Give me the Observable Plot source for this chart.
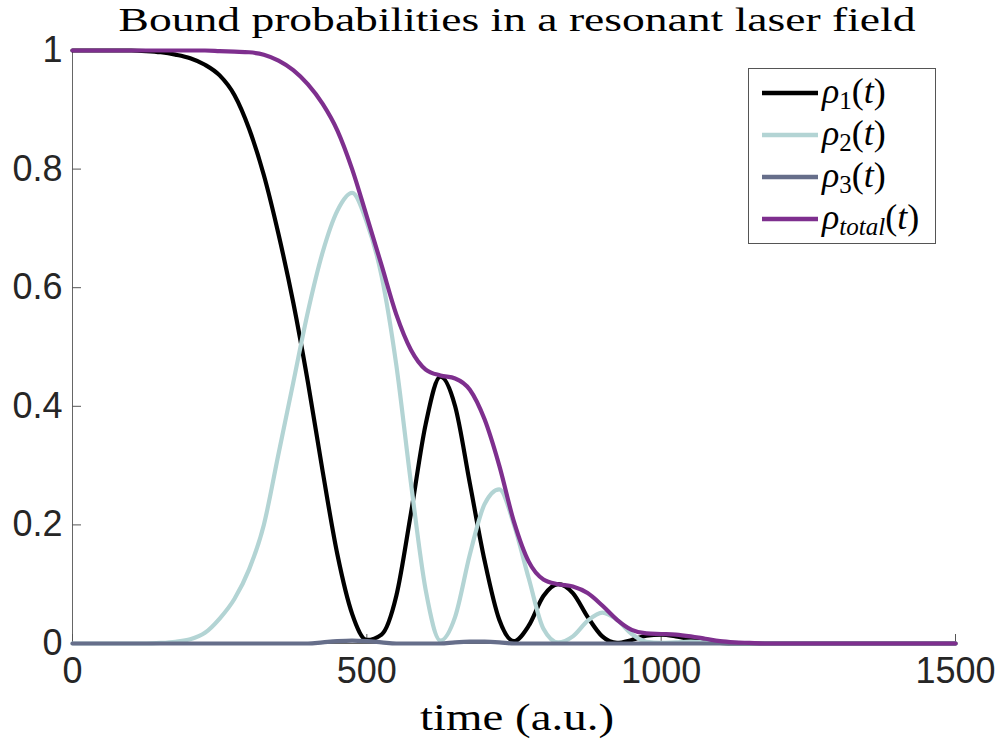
<!DOCTYPE html>
<html><head><meta charset="utf-8">
<script src="https://cdn.jsdelivr.net/npm/d3@7"></script>
<script src="https://cdn.jsdelivr.net/npm/@observablehq/plot@0.6"></script>
<style>body{margin:0;background:#fff}</style>
</head><body><div id="chart"></div>
<script>
// ---- data ----
const time = [0,25,50,75,100,125,150,175,200,225,250,275,300,325,350,375,400,425,450,475,500,525,550,575,600,625,650,675,700,725,750,775,800,825,850,875,900,925,950,975,1000,1025,1050,1075,1100,1125,1150,1175,1200,1225,1250,1275,1300,1325,1350,1375,1400,1425,1450,1475,1500];
const rho1 = [1,1,1,1,1,0.999,0.997,0.993,0.987,0.976,0.958,0.925,0.868,0.79,0.69,0.575,0.44,0.29,0.15,0.05,0.006,0.015,0.08,0.22,0.37,0.45,0.40,0.27,0.14,0.04,0.004,0.03,0.08,0.10,0.085,0.045,0.012,0.001,0.006,0.013,0.015,0.012,0.007,0.003,0.001,0,0,0,0,0,0,0,0,0,0,0,0,0,0,0,0];
const rho2 = [0,0,0,0,0,0,0.001,0.003,0.007,0.018,0.042,0.075,0.125,0.20,0.32,0.44,0.56,0.66,0.73,0.76,0.71,0.62,0.47,0.27,0.09,0.005,0.045,0.15,0.235,0.26,0.20,0.11,0.025,0.002,0.012,0.038,0.052,0.040,0.016,0.003,0.001,0.002,0.003,0.002,0.001,0,0,0,0,0,0,0,0,0,0,0,0,0,0,0,0];
const rho3 = [0,0,0,0,0,0,0,0,0,0,0,0,0,0,0,0,0,0.002,0.004,0.005,0.004,0.002,0,0,0,0,0.002,0.003,0.003,0.002,0,0,0,0,0,0,0,0,0,0,0,0,0,0,0,0,0,0,0,0,0,0,0,0,0,0,0,0,0,0,0];
const rhoTotal = [1,1,1,1,1,1,1,1,1,1,0.999,0.998,0.997,0.993,0.983,0.967,0.943,0.91,0.865,0.80,0.72,0.638,0.555,0.495,0.462,0.452,0.447,0.428,0.378,0.30,0.205,0.138,0.108,0.100,0.096,0.085,0.064,0.04,0.023,0.017,0.016,0.015,0.012,0.008,0.004,0.002,0.001,0,0,0,0,0,0,0,0,0,0,0,0,0,0];
const xTicks = [0,500,1000,1500];
const yTicks = [0,0.2,0.4,0.6,0.8,1];
const seriesNames = ["1","2","3","total"];
const seriesColors = ["#000000","#b3d4d4","#666e8a","#7e2f8e"];
const titleText = "Bound probabilities in a resonant laser field";
const xLabel = "time (a.u.)";

// ---- layout ----
const W = 1005, H = 747, mL = 72, mR = 50, mT = 50, mB = 104;
const plotW = W - mL - mR, plotH = H - mT - mB;
const series = [rho1, rho2, rho3, rhoTotal];
const toRows = arr => time.map((t, i) => ({t, v: arr[i]}));

const plot = Plot.plot({
  width: W, height: H,
  marginLeft: mL, marginRight: mR, marginTop: mT, marginBottom: mB,
  x: {domain: [0, 1500]},
  y: {domain: [0, 1]},
  style: {background: "#fff", fontFamily: "'Liberation Sans', Arial, Helvetica, sans-serif"},
  marks: [
    Plot.axisX(xTicks, {tickSize: 0, tickPadding: 14, fontSize: 36, fill: "#262626", tickFormat: d => String(d), label: null}),
    Plot.axisY(yTicks, {tickSize: 0, tickPadding: 10, fontSize: 36, fill: "#262626", tickFormat: d => String(d), label: null}),
    Plot.ruleX([0], {stroke: "#666", strokeWidth: 1}),
    Plot.ruleY([0], {stroke: "#666", strokeWidth: 1}),
    Plot.tickX(xTicks, {x: d => d, insetTop: plotH - 9, stroke: "#555"}),
    Plot.tickY(yTicks, {y: d => d, insetRight: plotW - 9, stroke: "#555"}),
    ...series.map((arr, i) => Plot.line(toRows(arr), {x: "t", y: "v", stroke: seriesColors[i], strokeWidth: 4.2, curve: "monotone-x"}))
  ]
});

const svg = d3.select(plot);
const serif = "'Liberation Serif', 'Times New Roman', serif";
// title
svg.append("text").attr("x", 517).attr("y", 30.5).attr("text-anchor", "middle")
  .attr("font-family", serif).attr("font-size", 34)
  .attr("textLength", 797).attr("lengthAdjust", "spacingAndGlyphs").attr("fill", "#000").text(titleText);
// x label
svg.append("text").attr("x", 517).attr("y", 730).attr("text-anchor", "middle")
  .attr("font-family", serif).attr("font-size", 37)
  .attr("textLength", 194).attr("lengthAdjust", "spacingAndGlyphs").attr("fill", "#000").text(xLabel);

// legend
const lg = svg.append("g");
lg.append("rect").attr("x", 748.5).attr("y", 68.5).attr("width", 187).attr("height", 175)
  .attr("fill", "#fff").attr("stroke", "#555").attr("stroke-width", 1);
const rowY = [93, 135, 177, 219];
seriesNames.forEach((name, i) => {
  const y = rowY[i];
  lg.append("line").attr("x1", 762).attr("x2", 818).attr("y1", y).attr("y2", y)
    .attr("stroke", seriesColors[i]).attr("stroke-width", 4.5);
  const tx = lg.append("text").attr("x", 822).attr("y", y + 10).attr("text-anchor", "start")
    .attr("font-family", serif).attr("font-size", 36).attr("fill", "#000");
  tx.append("tspan").attr("font-style", "italic").text("ρ");
  tx.append("tspan").attr("font-size", 25).attr("dy", 6).attr("font-style", name === "total" ? "italic" : "normal").text(name);
  tx.append("tspan").attr("dy", -6).text("(");
  tx.append("tspan").attr("font-style", "italic").text("t");
  tx.append("tspan").text(")");
});

document.getElementById("chart").appendChild(plot);
</script>
</body></html>
